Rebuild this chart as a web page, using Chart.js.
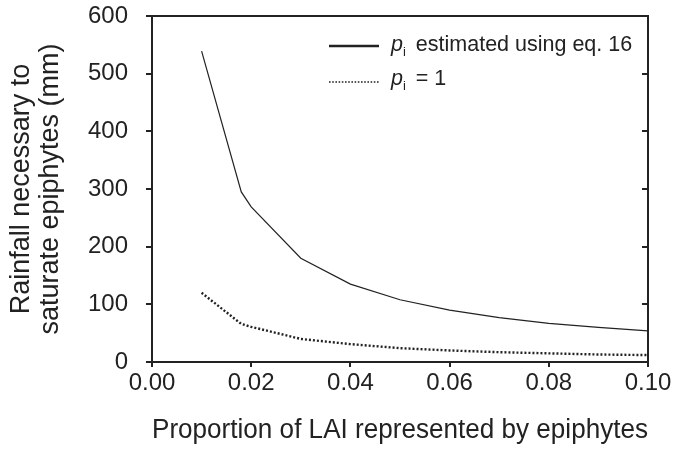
<!DOCTYPE html>
<html>
<head>
<meta charset="utf-8">
<script src="https://cdn.jsdelivr.net/npm/chart.js@4.4.1/dist/chart.umd.min.js"></script>
<style>
  html, body { margin: 0; padding: 0; background: #ffffff; }
  #wrap { width: 674px; height: 450px; position: relative; }
</style>
</head>
<body>
<div id="wrap"><canvas id="c" width="674" height="450"></canvas></div>
<script>
// ---- data ----
const lai = [0.01, 0.018, 0.02, 0.03, 0.04, 0.05, 0.06, 0.07, 0.08, 0.09, 0.10];
const rainEq16 = [539, 295, 269, 180, 135, 108, 90, 77, 67, 60, 54];
const rainPi1 = [120, 66, 61, 40, 31, 24, 20, 17, 15, 13, 12];
const yTicks = [0, 100, 200, 300, 400, 500, 600];
const xTicks = [0.00, 0.02, 0.04, 0.06, 0.08, 0.10];
const legendLabels = ["estimated using eq. 16", "= 1"];
const legendSymbol = "p";
const legendSub = "i";
const xTitle = "Proportion of LAI represented by epiphytes";
const yTitle = ["Rainfall necessary to", "saturate epiphytes (mm)"];

const INK = '#222222';
const FONT = '"Liberation Sans", Arial, Helvetica, sans-serif';

function pts(xs, ys) { return xs.map((x, i) => ({ x: x, y: ys[i] })); }

const framePlugin = {
  id: 'frame',
  afterDraw(chart) {
    const ctx = chart.ctx;
    const a = chart.chartArea;
    const ys = chart.scales.y;
    ctx.save();
    ctx.strokeStyle = INK;
    ctx.lineWidth = 2;
    ctx.beginPath();
    ctx.moveTo(a.left, a.top);
    ctx.lineTo(a.right, a.top);
    ctx.moveTo(a.right, a.top - 1);
    ctx.lineTo(a.right, a.bottom);
    ctx.stroke();
    // inward ticks on the right side
    ctx.beginPath();
    yTicks.forEach(v => {
      if (v === 0 || v === 600) return;
      const py = Math.round(ys.getPixelForValue(v));
      ctx.moveTo(a.right, py);
      ctx.lineTo(a.right - 6, py);
    });
    ctx.stroke();

    // legend
    const ds = chart.data.datasets;
    const rows = [46, 82];
    const tb = [51, 85];
    ds.forEach((d, i) => {
      ctx.save();
      ctx.strokeStyle = d.borderColor;
      ctx.lineWidth = i === 0 ? 2.5 : 1.6;
      ctx.setLineDash(i === 0 ? [] : [1.6, 1.6]);
      ctx.beginPath();
      ctx.moveTo(329, rows[i]);
      ctx.lineTo(379, rows[i]);
      ctx.stroke();
      ctx.restore();
      ctx.fillStyle = INK;
      ctx.textBaseline = 'alphabetic';
      ctx.textAlign = 'left';
      let x = 391;
      ctx.font = 'italic 21.5px ' + FONT;
      ctx.fillText(legendSymbol, x, tb[i]);
      x += ctx.measureText(legendSymbol).width;
      ctx.font = '13px ' + FONT;
      ctx.fillText(legendSub, x, tb[i] + 5);
      x += ctx.measureText(legendSub).width + 10;
      ctx.font = '21.5px ' + FONT;
      ctx.fillText(legendLabels[i], x, tb[i]);
    });
    ctx.restore();
  }
};

new Chart(document.getElementById('c'), {
  type: 'line',
  data: {
    datasets: [
      {
        label: legendSymbol + legendSub + ' ' + legendLabels[0],
        data: pts(lai, rainEq16),
        borderColor: INK,
        borderWidth: 1.2,
        pointRadius: 0,
        tension: 0,
        fill: false
      },
      {
        label: legendSymbol + legendSub + ' ' + legendLabels[1],
        data: pts(lai, rainPi1),
        borderColor: INK,
        borderWidth: 2.4,
        borderDash: [2, 2],
        pointRadius: 0,
        tension: 0,
        fill: false
      }
    ]
  },
  options: {
    responsive: false,
    animation: false,
    devicePixelRatio: 1,
    layout: { padding: { top: 0, right: 26, left: 0, bottom: 0 } },
    plugins: { legend: { display: false }, tooltip: { enabled: false } },
    scales: {
      x: {
        type: 'linear',
        min: 0, max: 0.1,
        afterBuildTicks(s) { s.ticks = xTicks.map(v => ({ value: v })); },
        afterFit(s) { s.height = 88; },
        ticks: {
          autoSkip: false,
          maxRotation: 0,
          color: INK,
          padding: 2,
          font: { family: FONT, size: 24 },
          callback: v => Number(v).toFixed(2)
        },
        grid: { drawOnChartArea: false, drawTicks: true, tickLength: 5, color: INK, lineWidth: 2 },
        border: { display: true, color: INK, width: 2 },
        title: {
          display: true, text: xTitle, color: INK,
          font: { family: FONT, size: 27, lineHeight: 1.0 },
          padding: { top: 0, bottom: 6 }
        }
      },
      y: {
        type: 'linear',
        min: 0, max: 600,
        afterBuildTicks(s) { s.ticks = yTicks.map(v => ({ value: v })); },
        afterFit(s) { s.width = 152; s.paddingTop = 16; s.paddingBottom = 0; },
        ticks: {
          color: INK,
          padding: 18,
          font: { family: FONT, size: 24 }
        },
        grid: { drawOnChartArea: false, drawTicks: true, tickLength: 6, color: INK, lineWidth: 2 },
        border: { display: true, color: INK, width: 2 },
        title: {
          display: true, text: yTitle, color: INK,
          font: { family: FONT, size: 27, lineHeight: 1.04 },
          padding: { top: 8, bottom: 0 }
        }
      }
    }
  },
  plugins: [framePlugin]
});
</script>
</body>
</html>
